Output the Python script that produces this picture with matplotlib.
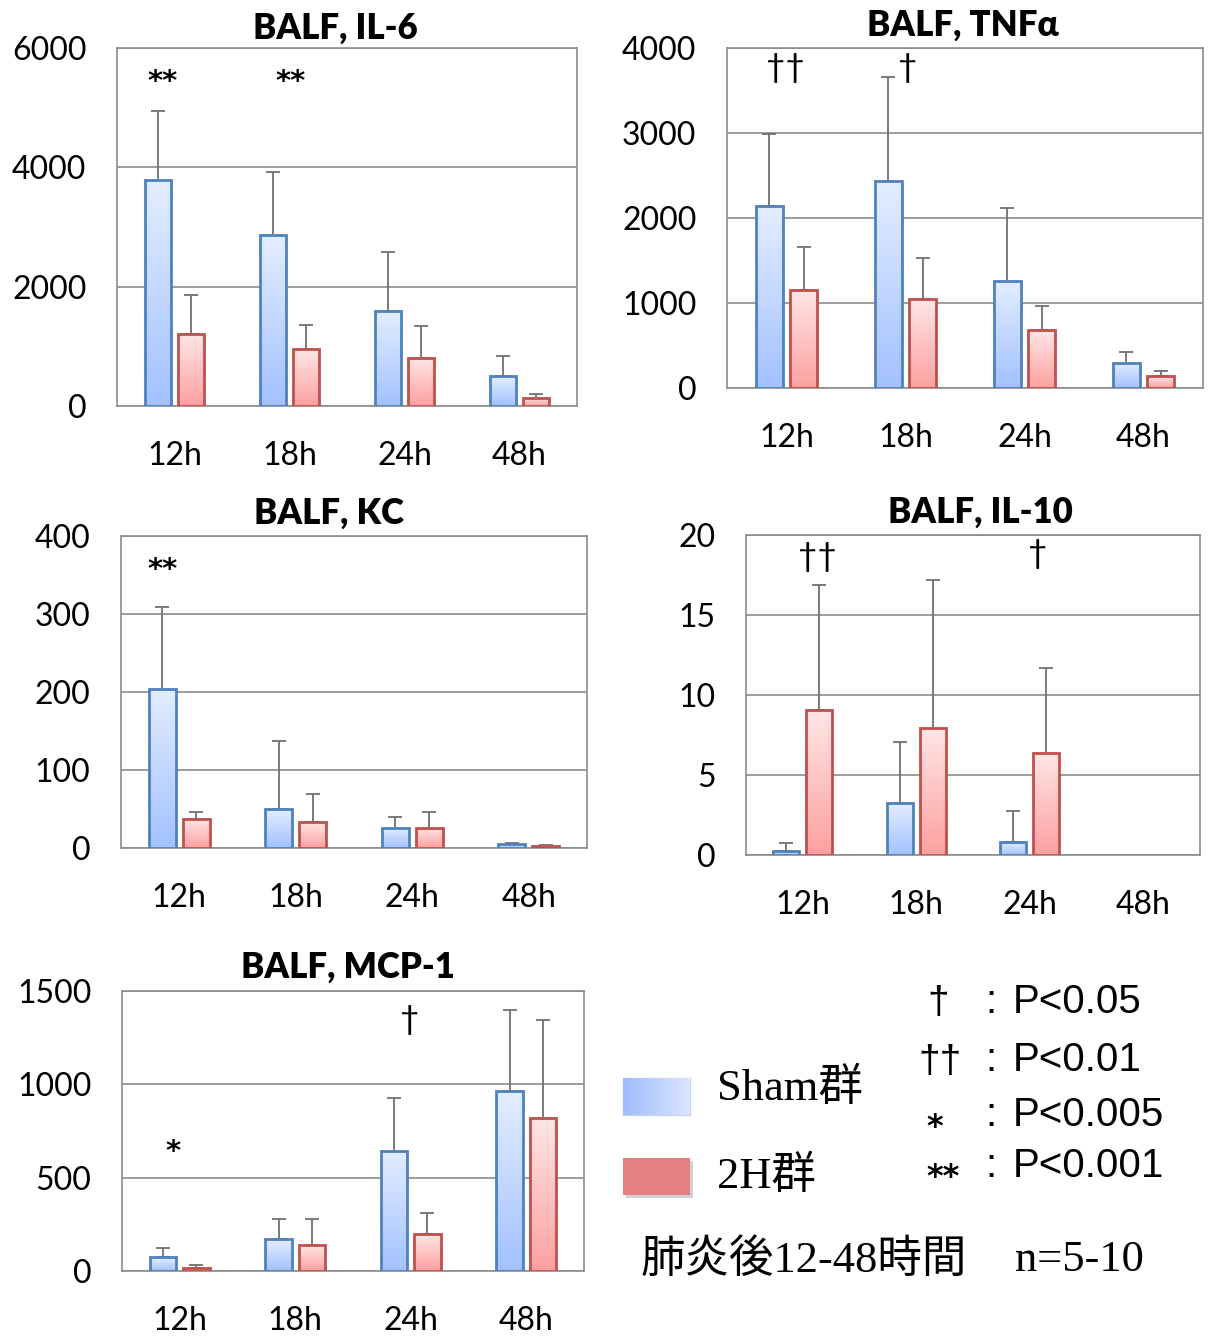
import numpy as np
import matplotlib
matplotlib.use('Agg')
import matplotlib.pyplot as plt

# データ
hours = ['12h', '18h', '24h', '48h']

il6_sham = [3790, 2870, 1590, 500]
il6_sham_sd = [1155, 1055, 990, 335]
il6_2h = [1205, 955, 805, 135]
il6_2h_sd = [655, 405, 535, 65]

tnf_sham = [2140, 2435, 1260, 295]
tnf_sham_sd = [850, 1225, 860, 130]
tnf_2h = [1150, 1045, 680, 140]
tnf_2h_sd = [505, 485, 285, 60]

kc_sham = [204, 50, 26, 5]
kc_sham_sd = [105, 87, 14, 1.5]
kc_2h = [37, 33, 26, 3]
kc_2h_sd = [9, 36, 20, 1]

il10_sham = [0.25, 3.25, 0.8, None]
il10_sham_sd = [0.5, 3.8, 1.95, None]
il10_2h = [9.05, 7.95, 6.4, None]
il10_2h_sd = [7.85, 9.25, 5.3, None]

mcp_sham = [75, 171, 643, 964]
mcp_sham_sd = [48, 108, 284, 434]
mcp_2h = [16, 139, 198, 820]
mcp_2h_sd = [16, 140, 113, 524]

W, H = 1208, 1342
fig = plt.figure(figsize=(W / 100, H / 100), dpi=100)
SANS = ['Lato', 'DejaVu Sans']
plt.rcParams['font.family'] = SANS
STAR = ['DejaVu Sans']

BLUE_TOP = np.array([0.89, 0.93, 1.0])
BLUE_BOT = np.array([0.64, 0.76, 1.0])
RED_TOP = np.array([1.0, 0.90, 0.90])
RED_BOT = np.array([0.99, 0.63, 0.63])
BLUE_EDGE = '#4f81bd'
RED_EDGE = '#c0504d'


def px_axes(l, r, t, b):
    return fig.add_axes([l / W, 1 - b / H, (r - l) / W, (b - t) / H])


def grad_bar(ax, x, w, h, top, bot, edge):
    g = np.linspace(0, 1, 64)[:, None]
    img = (top * (1 - g) + bot * g).reshape(64, 1, 3)
    ax.imshow(img, extent=[x - w / 2, x + w / 2, 0, h], origin='upper',
              aspect='auto', zorder=3, interpolation='bilinear')
    ax.bar(x, h, w, facecolor='none', edgecolor=edge, linewidth=2, zorder=4)


def panel(box, title, title_xy, ymax, yticks, sham, sham_sd, h2, h2_sd, marks):
    ax = px_axes(*box)
    bw = 0.23
    for i in range(len(hours)):
        for vals, sds, off, top, bot, edge in [
                (sham, sham_sd, -0.145, BLUE_TOP, BLUE_BOT, BLUE_EDGE),
                (h2, h2_sd, 0.145, RED_TOP, RED_BOT, RED_EDGE)]:
            if vals[i] is None:
                continue
            x = i + 0.5 + off
            ax.errorbar(x, vals[i], yerr=[[0], [sds[i]]], fmt='none',
                        ecolor='#707070', elinewidth=1.3, capsize=5,
                        capthick=1.3, zorder=2)
            grad_bar(ax, x, bw, vals[i], top, bot, edge)
    ax.set_xlim(0, 4)
    ax.set_ylim(0, ymax)
    ax.set_xticks([i + 0.5 for i in range(4)])
    ax.set_xticklabels(hours)
    ax.set_yticks(yticks)
    ax.tick_params(length=0, labelsize=23, pad=22)
    ax.tick_params(axis='x', pad=25)
    ax.yaxis.grid(True, color='#8c8c8c', linewidth=1.2)
    ax.set_axisbelow(True)
    for s in ax.spines.values():
        s.set_color('#8c8c8c')
        s.set_linewidth(1.2)
    fig.text(title_xy[0] / W, 1 - title_xy[1] / H, title, fontsize=25,
             fontweight='heavy', ha='center', va='center')
    for xm, ym, s, fs in marks:
        if '*' in s:
            ax.text(xm, ym, s, fontsize=fs, family=STAR, fontweight='bold',
                    ha='center', va='center')
        else:
            ax.text(xm, ym, s, fontsize=fs, ha='center', va='center')
    return ax


panel((117, 577, 48, 406), 'BALF, IL-6', (335, 28), 6000, [0, 2000, 4000, 6000],
      il6_sham, il6_sham_sd, il6_2h, il6_2h_sd,
      [(0.40, 5430, '**', 21), (1.51, 5430, '**', 21)])
panel((727, 1203, 48, 388), 'BALF, TNFα', (963, 25), 4000, [0, 1000, 2000, 3000, 4000],
      tnf_sham, tnf_sham_sd, tnf_2h, tnf_2h_sd,
      [(0.49, 3765, '††', 24), (1.52, 3765, '†', 24)])
panel((121, 587, 536, 848), 'BALF, KC', (329, 513), 400, [0, 100, 200, 300, 400],
      kc_sham, kc_sham_sd, kc_2h, kc_2h_sd,
      [(0.36, 357, '**', 21)])
panel((746, 1200, 535, 855), 'BALF, IL-10', (980, 512), 20, [0, 5, 10, 15, 20],
      il10_sham, il10_sham_sd, il10_2h, il10_2h_sd,
      [(0.63, 18.6, '††', 24), (2.57, 18.8, '†', 24)])
panel((122, 584, 991, 1271), 'BALF, MCP-1', (348, 967), 1500, [0, 500, 1000, 1500],
      mcp_sham, mcp_sham_sd, mcp_2h, mcp_2h_sd,
      [(0.44, 640, '*', 21), (2.49, 1344, '†', 24)])

# 凡例と注記
lg = fig.add_axes([0, 0, 1, 1])
lg.set_xlim(0, W)
lg.set_ylim(H, 0)
lg.axis('off')
g = np.linspace(0, 1, 64)[None, :]
sw = (np.array([0.62, 0.74, 0.98]) * (1 - g[..., None]) +
      np.array([0.86, 0.90, 1.0]) * g[..., None])
lg.imshow(sw, extent=[623, 690, 1115, 1078], aspect='auto', zorder=2)
lg.add_patch(plt.Rectangle((623, 1078), 67, 37, fill=False, ec='#c8d4ea', lw=1))
lg.add_patch(plt.Rectangle((626, 1161), 67, 37, fc='#d0d0d0', ec='none', zorder=1))
lg.add_patch(plt.Rectangle((623, 1158), 67, 37, fc='#e58080', ec='none', zorder=2))

SERIF = ['Liberation Serif', 'Noto Sans CJK JP']
lg.text(717, 1088, 'Sham群', fontsize=32, family=SERIF, va='center', ha='left')
lg.text(717, 1176, '2H群', fontsize=32, family=SERIF, va='center', ha='left')
lg.text(641, 1260, '肺炎後12-48時間', fontsize=32, family=SERIF, va='center', ha='left')
lg.text(1015, 1260, 'n=5-10', fontsize=32, family=SERIF, va='center', ha='left')

ARIAL = ['Liberation Sans', 'DejaVu Sans']
pv = [('†', 938, 1003, 28, ARIAL, 'normal'), ('††', 940, 1062, 28, ARIAL, 'normal'),
      ('*', 935, 1128, 23, STAR, 'bold'), ('**', 943, 1178, 23, STAR, 'bold')]
pt = [('P<0.05', 1002), ('P<0.01', 1060), ('P<0.005', 1115), ('P<0.001', 1166)]
for (m, xm, ym, fs, fam, fw), (t, yt) in zip(pv, pt):
    lg.text(xm, ym, m, fontsize=fs, family=fam, fontweight=fw, ha='center', va='center')
    lg.text(991, yt, ':', fontsize=29, family=ARIAL, ha='center', va='center')
    lg.text(1013, yt, t, fontsize=29, family=ARIAL, ha='left', va='center')

fig.savefig('out.png', dpi=100)
